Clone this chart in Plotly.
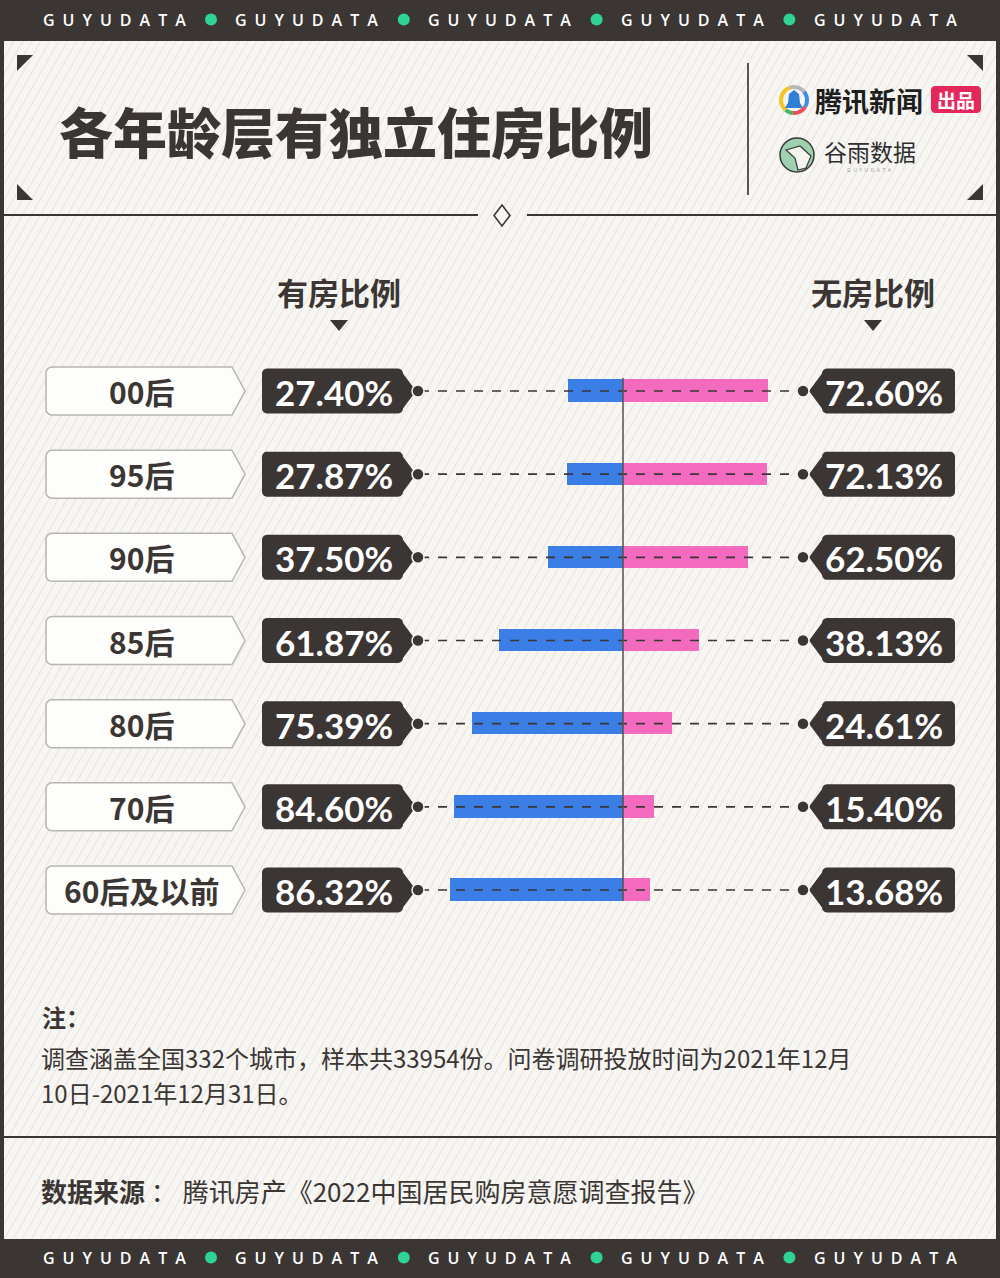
import plotly.graph_objects as go
import math

# ---------------- data ----------------
categories = ["00后", "95后", "90后", "85后", "80后", "70后", "60后及以前"]
owned = [27.40, 27.87, 37.50, 61.87, 75.39, 84.60, 86.32]
not_owned = [72.60, 72.13, 62.50, 38.13, 24.61, 15.40, 13.68]

title_text = "各年龄层有独立住房比例"
left_header = "有房比例"
right_header = "无房比例"
note_title = "注："
note_lines = ["调查涵盖全国332个城市，样本共33954份。问卷调研投放时间为2021年12月",
              "10日-2021年12月31日。"]
source_bold = "数据来源"
source_text = " ： 腾讯房产《2022中国居民购房意愿调查报告》"
brand = "GUYUDATA"

# ---------------- styling ----------------
W, H = 1000, 1278
DARK = "#3b3634"
BG = "#f7f6f3"
BLUE = "#3b7fe6"
PINK = "#f26bbe"
GREEN = "#2fd394"
CJK = "Noto Sans CJK SC"
NUM = "Lato"

ROW0, ROW_STEP = 391.0, (890.0 - 391.0) / 6
n = len(categories)


def X(x):
    return x / W


def Y(y):
    return 1 - y / H


def path(points, close=True):
    s = "M " + " L ".join(f"{X(a):.5f},{Y(b):.5f}" for a, b in points)
    return s + (" Z" if close else "")


def rounded_pts(x0, y0, x1, y1, r, corners, n_arc=6):
    """Polygon points for a rect with selected rounded corners (tl,tr,br,bl)."""
    pts = []
    def arc(cx, cy, a0, a1):
        for k in range(n_arc + 1):
            a = math.radians(a0 + (a1 - a0) * k / n_arc)
            pts.append((cx + r * math.cos(a), cy + r * math.sin(a)))
    tl, tr, br, bl = corners
    if tl: arc(x0 + r, y0 + r, 180, 270)
    else: pts.append((x0, y0))
    if tr: arc(x1 - r, y0 + r, 270, 360)
    else: pts.append((x1, y0))
    if br: arc(x1 - r, y1 - r, 0, 90)
    else: pts.append((x1, y1))
    if bl: arc(x0 + r, y1 - r, 90, 180)
    else: pts.append((x0, y1))
    return pts


shapes = []
annotations = []

# background stripes
seg = []
slope = 1.75
for k in range(-90, 115):
    xb = k * 9.0
    xt = xb + H / slope
    seg.append(f"M {X(xb):.5f},{Y(H):.5f} L {X(xt):.5f},{Y(0):.5f}")
shapes.append(dict(type="path", xref="paper", yref="paper", path=" ".join(seg),
                   line=dict(color="rgba(200,193,184,0.28)", width=1.2), layer="below"))

# frame sides
for x0, x1 in [(0, 4), (996, 1000)]:
    shapes.append(dict(type="rect", xref="paper", yref="paper", x0=X(x0), x1=X(x1), y0=Y(1240), y1=Y(40),
                       fillcolor=DARK, line_width=0, layer="above"))

# banners
for y0, y1, yc in [(0, 41, 19.5), (1239, 1278, 1257.5)]:
    shapes.append(dict(type="rect", xref="paper", yref="paper", x0=0, x1=1, y0=Y(y1), y1=Y(y0),
                       fillcolor=DARK, line_width=0, layer="above"))
    for i in range(5):
        cx = 114 + i * 192.8
        annotations.append(dict(xref="paper", yref="paper", x=X(cx), y=Y(yc), text="\u2002".join(brand),
                                showarrow=False, font=dict(family="Open Sans", size=16, color="white", weight=600),
                                xanchor="center", yanchor="middle"))
        if i < 4:
            dx = cx + 97
            shapes.append(dict(type="circle", xref="paper", yref="paper", x0=X(dx - 6), x1=X(dx + 6),
                               y0=Y(yc + 6), y1=Y(yc - 6), fillcolor=GREEN, line_width=0, layer="above"))

# header divider with diamond
shapes.append(dict(type="line", xref="paper", yref="paper", x0=X(4), x1=X(478), y0=Y(215), y1=Y(215),
                   line=dict(color=DARK, width=2), layer="above"))
shapes.append(dict(type="line", xref="paper", yref="paper", x0=X(527), x1=X(996), y0=Y(215), y1=Y(215),
                   line=dict(color=DARK, width=2), layer="above"))
shapes.append(dict(type="path", xref="paper", yref="paper",
                   path=path([(502, 205), (510, 215.5), (502, 226), (494, 215.5)]),
                   fillcolor=BG, line=dict(color=DARK, width=1.6), layer="above"))
# footer divider
shapes.append(dict(type="line", xref="paper", yref="paper", x0=X(4), x1=X(996), y0=Y(1137), y1=Y(1137),
                   line=dict(color=DARK, width=2), layer="above"))

# corner triangles
for pts in [[(17, 55), (33, 55), (17, 71)], [(983, 55), (967, 55), (983, 71)],
            [(17, 200), (33, 200), (17, 184)], [(983, 200), (967, 200), (983, 184)]]:
    shapes.append(dict(type="path", xref="paper", yref="paper", path=path(pts),
                       fillcolor=DARK, line_width=0, layer="above"))

# vertical separator in header
shapes.append(dict(type="line", xref="paper", yref="paper", x0=X(748), x1=X(748), y0=Y(63), y1=Y(195),
                   line=dict(color="#5a5553", width=2), layer="above"))

# title
annotations.append(dict(xref="paper", yref="paper", x=X(57), y=Y(130), text=title_text, showarrow=False,
                        font=dict(family=CJK, size=54, color=DARK, weight=900),
                        xanchor="left", yanchor="middle"))

# Tencent news logo
cx, cy, r = 794, 100, 13
ring = [("#f3c623", 110, 230), ("#46b35e", 230, 265), ("#e8505b", 265, 330), ("#3d8fe0", 330, 400),
        ("#b8b8b8", 400, 470)]
for col, a0, a1 in ring:
    pts = [(cx + r * math.cos(math.radians(a)), cy - r * math.sin(math.radians(a)))
           for a in [a0 + (a1 - a0) * k / 10 for k in range(11)]]
    shapes.append(dict(type="path", xref="paper", yref="paper", path=path(pts, close=False),
                       line=dict(color=col, width=4), layer="above"))
shapes.append(dict(type="path", xref="paper", yref="paper",
                   path=path([(794, 90), (799, 94), (800, 103), (803, 108), (785, 108), (788, 103), (789, 94)]),
                   fillcolor="#2f7fd6", line_width=0, layer="above"))
annotations.append(dict(xref="paper", yref="paper", x=X(813), y=Y(100), text="<b>腾讯新闻</b>", showarrow=False,
                        font=dict(family=CJK, size=27, color="#1e1e1e"), xanchor="left", yanchor="middle"))
shapes.append(dict(type="path", xref="paper", yref="paper",
                   path=path(rounded_pts(931, 86, 981, 113, 4, (1, 1, 1, 1))),
                   fillcolor="#e5285c", line_width=0, layer="above"))
annotations.append(dict(xref="paper", yref="paper", x=X(956), y=Y(99.5), text="<b>出品</b>", showarrow=False,
                        font=dict(family=CJK, size=19, color="white"), xanchor="center", yanchor="middle"))

# Guyu data logo
shapes.append(dict(type="circle", xref="paper", yref="paper", x0=X(780), x1=X(814), y0=Y(172), y1=Y(138),
                   fillcolor="#9fd0b0", line=dict(color="#3a3a3a", width=1.5), layer="above"))
shapes.append(dict(type="path", xref="paper", yref="paper",
                   path=path([(786, 150), (800, 146), (811, 156), (806, 168), (798, 170), (795, 158)]),
                   fillcolor="#f4f4ef", line=dict(color="#3a3a3a", width=1.2), layer="above"))
annotations.append(dict(xref="paper", yref="paper", x=X(822), y=Y(151), text="谷雨数据", showarrow=False,
                        font=dict(family=CJK, size=23, color="#2e2e2e"), xanchor="left", yanchor="middle"))
annotations.append(dict(xref="paper", yref="paper", x=X(869), y=Y(170), text="\u2002".join(brand), showarrow=False,
                        font=dict(family="Open Sans", size=5, color="#999999"), xanchor="center", yanchor="middle"))

# column headers
for hx, txt in [(339, left_header), (873, right_header)]:
    annotations.append(dict(xref="paper", yref="paper", x=X(hx), y=Y(292), text=txt, showarrow=False,
                            font=dict(family=CJK, size=31, color=DARK, weight=700),
                            xanchor="center", yanchor="middle"))
    shapes.append(dict(type="path", xref="paper", yref="paper",
                       path=path([(hx - 9, 320), (hx + 9, 320), (hx, 331)]),
                       fillcolor=DARK, line_width=0, layer="above"))

# rows: tags, dashed guides, labels
for i, (cat, o, no) in enumerate(zip(categories, owned, not_owned)):
    yc = ROW0 + i * ROW_STEP
    # category box (rounded left corners, arrow on the right)
    pts = rounded_pts(46, yc - 24, 232, yc + 24, 6, (1, 0, 0, 1))
    box = pts[:8] + [(245, yc)] + pts[8:]
    shapes.append(dict(type="path", xref="paper", yref="paper", path=path(box),
                       fillcolor="#fdfdfb", line=dict(color="#b9b5b0", width=1.5), layer="above"))
    annotations.append(dict(xref="paper", yref="paper", x=X(141), y=Y(yc), text=cat, showarrow=False,
                            font=dict(family=CJK, size=30, color=DARK, weight=700),
                            xanchor="center", yanchor="middle"))
    # left value tag (arrow on the right)
    pts = rounded_pts(262, yc - 22.5, 403, yc + 22.5, 5, (1, 1, 1, 1))
    tag = pts[:14] + [(416, yc)] + pts[14:]
    shapes.append(dict(type="path", xref="paper", yref="paper", path=path(tag),
                       fillcolor=DARK, line_width=0, layer="above"))
    annotations.append(dict(xref="paper", yref="paper", x=X(334), y=Y(yc + 1), text=f"{o:.2f}%", showarrow=False,
                            font=dict(family=NUM, size=35, color="white", weight=700),
                            xanchor="center", yanchor="middle"))
    # right value tag (arrow on the left)
    pts = rounded_pts(822, yc - 22.5, 955, yc + 22.5, 5, (1, 1, 1, 1))
    tag = pts + [(809, yc)]
    shapes.append(dict(type="path", xref="paper", yref="paper", path=path(tag),
                       fillcolor=DARK, line_width=0, layer="above"))
    annotations.append(dict(xref="paper", yref="paper", x=X(884), y=Y(yc + 1), text=f"{no:.2f}%", showarrow=False,
                            font=dict(family=NUM, size=35, color="white", weight=700),
                            xanchor="center", yanchor="middle"))
    # dashed guide
    shapes.append(dict(type="line", xref="paper", yref="paper", x0=X(420), x1=X(801), y0=Y(yc), y1=Y(yc),
                       line=dict(color=DARK, width=1.6, dash="dash"), layer="above"))
    for dx in (418, 803):
        shapes.append(dict(type="circle", xref="paper", yref="paper", x0=X(dx - 6), x1=X(dx + 6),
                           y0=Y(yc + 6), y1=Y(yc - 6), fillcolor=DARK, line=dict(color=BG, width=1.5),
                           layer="above"))

# center axis line (value 0 on bar axis)
shapes.append(dict(type="line", xref="x", yref="paper", x0=0, x1=0, y0=Y(901), y1=Y(378),
                   line=dict(color="#55504e", width=1.5), layer="above"))

# notes
annotations.append(dict(xref="paper", yref="paper", x=X(40), y=Y(1016), text=f"<b>{note_title}</b>", showarrow=False,
                        font=dict(family=CJK, size=24, color=DARK), xanchor="left", yanchor="middle"))
for k, line in enumerate(note_lines):
    annotations.append(dict(xref="paper", yref="paper", x=X(39), y=Y(1057 + 35 * k), text=line,
                            showarrow=False, font=dict(family=CJK, size=24, color=DARK),
                            xanchor="left", yanchor="middle"))
annotations.append(dict(xref="paper", yref="paper", x=X(39), y=Y(1190), text=f"<b>{source_bold}</b>{source_text}",
                        showarrow=False, font=dict(family=CJK, size=26, color=DARK),
                        xanchor="left", yanchor="middle"))

# ---------------- bars ----------------
fig = go.Figure()
fig.add_trace(go.Bar(y=categories, x=[-v for v in owned], orientation="h", marker=dict(color=BLUE, line_width=0),
                     width=0.27, hoverinfo="skip", showlegend=False))
fig.add_trace(go.Bar(y=categories, x=not_owned, orientation="h", marker=dict(color=PINK, line_width=0),
                     width=0.27, hoverinfo="skip", showlegend=False))

y_top = ROW0 - ROW_STEP / 2
y_bot = ROW0 + (n - 0.5) * ROW_STEP
fig.update_layout(
    width=W, height=H, margin=dict(l=0, r=0, t=0, b=0),
    paper_bgcolor=BG, plot_bgcolor="rgba(0,0,0,0)",
    barmode="relative", bargap=0,
    xaxis=dict(domain=[0.423, 0.823], range=[-100, 100], visible=False, fixedrange=True),
    yaxis=dict(domain=[Y(y_bot), Y(y_top)], type="category", categoryorder="array", categoryarray=categories,
               range=[n - 0.5, -0.5], visible=False, fixedrange=True),
    shapes=shapes, annotations=annotations, showlegend=False,
)

fig.write_html("out.html", config={"displayModeBar": False},
               post_script="document.body.style.margin='0';document.body.style.padding='0';")
